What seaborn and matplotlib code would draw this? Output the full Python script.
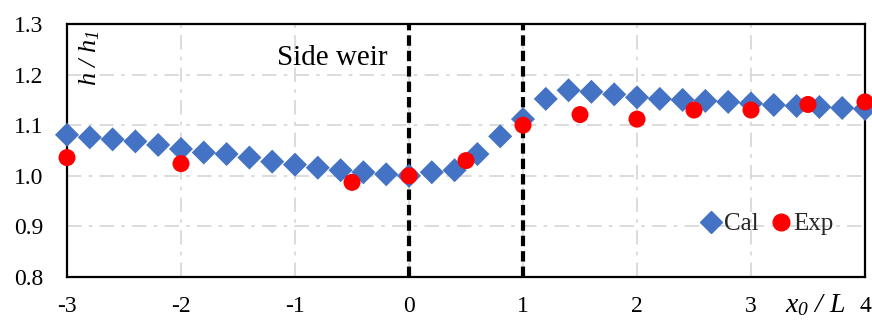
import matplotlib
matplotlib.use("Agg")
import matplotlib.pyplot as plt
import seaborn as sns
import pandas as pd
from matplotlib.lines import Line2D

# ---- data ----
cal_x = [-3.0, -2.8, -2.6, -2.4, -2.2, -2.0, -1.8, -1.6, -1.4, -1.2, -1.0, -0.8,
         -0.6, -0.4, -0.2, 0.0, 0.2, 0.4, 0.6, 0.8, 1.0, 1.2, 1.4, 1.6, 1.8, 2.0,
         2.2, 2.4, 2.6, 2.8, 3.0, 3.2, 3.4, 3.6, 3.8, 4.0]
cal_y = [1.081, 1.076, 1.072, 1.068, 1.061, 1.053, 1.046, 1.043, 1.036, 1.028, 1.022, 1.016,
         1.011, 1.007, 1.003, 1.000, 1.007, 1.011, 1.043, 1.078, 1.112, 1.152, 1.169, 1.166,
         1.161, 1.155, 1.152, 1.150, 1.148, 1.146, 1.143, 1.140, 1.138, 1.136, 1.134, 1.132]
exp_x = [-3.0, -2.0, -0.5, 0.0, 0.5, 1.0, 1.5, 2.0, 2.5, 3.0, 3.5, 4.0]
exp_y = [1.036, 1.024, 0.987, 1.000, 1.030, 1.100, 1.121, 1.112, 1.130, 1.130, 1.141, 1.146]
x_ticks = [-3, -2, -1, 0, 1, 2, 3, 4]
y_ticks = [0.8, 0.9, 1.0, 1.1, 1.2, 1.3]
weir_x = [0, 1]

sns.set_theme(style="white")
plt.rcParams['font.family'] = ['Liberation Serif', 'DejaVu Serif']
plt.rcParams['mathtext.fontset'] = 'custom'
plt.rcParams['mathtext.rm'] = 'Liberation Serif:italic'
plt.rcParams['mathtext.it'] = 'Liberation Serif:italic'

fig = plt.figure(figsize=(8.72, 3.22), dpi=100)
ax = fig.add_axes([67/872, 1-277/322, (865-67)/872, (277-24)/322])

cal = pd.DataFrame({"x": cal_x, "y": cal_y})
exp = pd.DataFrame({"x": exp_x, "y": exp_y})

blue = "#4472C4"
red = "#FF0000"

sns.scatterplot(data=cal, x="x", y="y", marker="D", s=150, color=blue,
                edgecolor="none", ax=ax, zorder=4, clip_on=False)
sns.scatterplot(data=exp, x="x", y="y", marker="o", s=150, color=red,
                edgecolor="none", ax=ax, zorder=5, clip_on=False)

for wx in weir_x:
    ax.axvline(wx, color="black", lw=3, linestyle=(0, (2.5, 1.2)), zorder=3)

ax.set_xlim(-3, 4)
ax.set_ylim(0.8, 1.3)
ax.set_xticks(x_ticks)
ax.set_yticks(y_ticks)
ax.set_xticklabels([str(t) for t in x_ticks])
ax.set_yticklabels([f"{t:.1f}" for t in y_ticks])
ax.tick_params(axis="both", length=0, labelsize=17, colors="black")
ax.tick_params(axis="y", pad=17)
ax.tick_params(axis="x", pad=14)

ax.grid(True, color="#D9D9D9", lw=1.3, linestyle=(0, (8, 4, 2, 4)), zorder=0)
ax.set_axisbelow(True)
for sp in ax.spines.values():
    sp.set_color("black")
    sp.set_linewidth(1.6)

ax.set_xlabel("")
ax.set_ylabel("")

ax.text(-0.185, 1.219, "Side weir", fontsize=21, ha="right", va="baseline", color="black")
ax.text(0.028, 0.975, r"$h\ /\ h_{1}$", transform=ax.transAxes, rotation=90,
        fontsize=19, ha="center", va="top", color="black")
ax.text(3.56, -0.11, r"$x_{0}\ /\ L$", transform=ax.get_xaxis_transform(),
        fontsize=20, ha="center", va="center", color="black")

handles = [Line2D([], [], marker="D", color=blue, linestyle="none", markersize=11),
           Line2D([], [], marker="o", color=red, linestyle="none", markersize=12)]
ax.legend(handles, ["Cal", "Exp"], ncol=2, frameon=False, fontsize=18,
          loc="center", bbox_to_anchor=((766-67)/798, (277-224)/253),
          handletextpad=0.0, columnspacing=0.4, handlelength=1.0, borderpad=0.2)

fig.savefig("out.png", dpi=100)
